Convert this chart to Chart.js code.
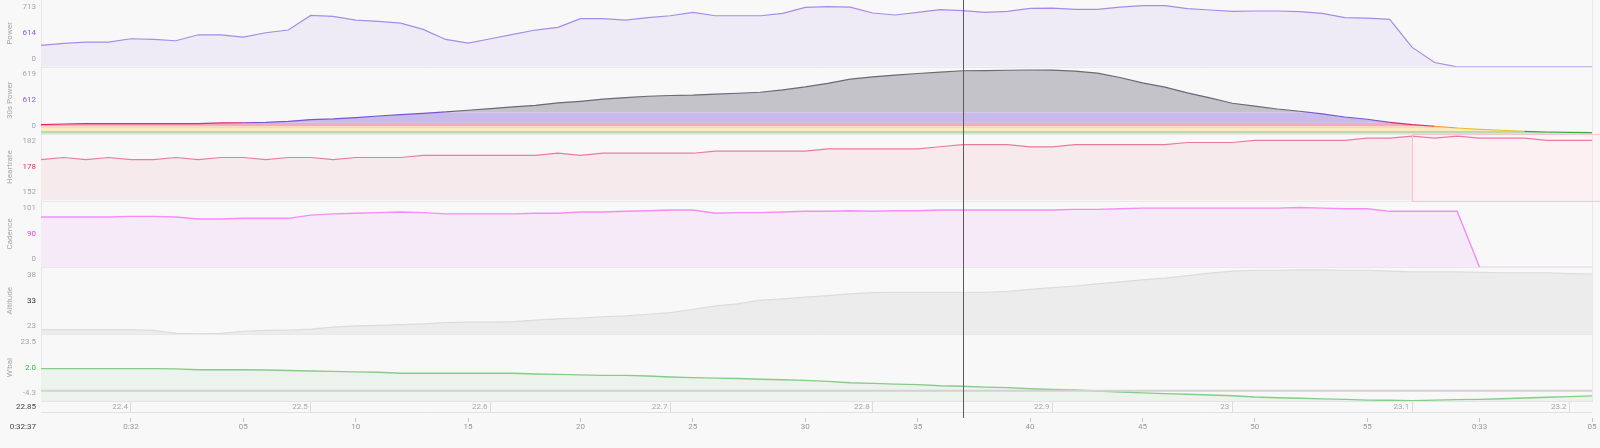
<!DOCTYPE html>
<html>
<head>
<meta charset="utf-8">
<script src="https://cdn.jsdelivr.net/npm/chart.js@4.4.1/dist/chart.umd.min.js"></script>
<style>
html, body { margin: 0; padding: 0; background: #f8f8f8; }
#wrap { width: 1600px; height: 448px; }
</style>
</head>
<body>
<div id="wrap"><canvas id="mycanvas" width="1600" height="448"></canvas></div>
<script>
// one sample per second, first sample at 0:31:56
var startTime = 1916;
var endTime = 1985;

var power = [234,256,270,270,307,299,285,350,350,325,
	372,402,562,551,511,496,478,409,299,259,
	307,354,402,431,526,526,511,537,558,595,
	558,558,558,584,650,657,653,588,566,595,
	624,614,595,606,639,642,628,628,653,668,
	668,635,621,606,610,610,602,584,537,533,
	518,212,47,0,0,0,0,0,0,0];
var power30 = [88,94,98,98,98,98,98,98,104,106,
	110,120,137,143,156,172,185,198,211,228,
	244,260,276,299,315,335,351,364,371,374,
	384,393,403,426,455,490,530,553,569,585,
	598,612,614,617,619,618,608,588,546,494,
	452,397,348,296,267,240,218,192,162,140,
	110,88,72,55,42,33,23,16,13,10];
var heartrate = [171,172,171,172,171,171,172,171,172,172,
	171,172,172,171,172,172,172,173,173,173,
	173,173,173,174,173,174,174,174,174,174,
	175,175,175,175,175,176,176,176,176,176,
	177,178,178,178,177,177,178,178,178,178,
	178,179,179,179,180,180,180,180,180,181,
	181,182,181,182,181,181,181,180,180,180];
var cadence = [79,79,79,79,80,80,79,76,76,77,
	77,77,82,84,85,86,87,86,84,84,
	84,84,85,85,87,87,88,89,90,90,
	85,86,86,87,88,88,89,88,89,89,
	90,90,90,90,90,90,91,91,92,93,
	93,93,93,93,93,93,94,93,92,92,
	88,88,88,88,0,0,0,0,0,0];
var altitude = [24.1,24.1,24.1,24.1,24.1,23.9,23.2,23.1,23.2,23.7,
	23.9,24.0,24.2,24.7,25.0,25.1,25.3,25.5,25.8,25.9,
	25.9,26.0,26.4,26.7,26.9,27.2,27.4,27.8,28.2,29.0,
	29.8,30.3,31.2,31.5,31.9,32.3,32.7,33.0,33.1,33.1,
	33.1,33.1,33.1,33.3,33.8,34.2,34.6,35.1,35.6,36.1,
	36.5,37.1,37.7,38.2,38.4,38.4,38.5,38.5,38.4,38.4,
	38.2,38.0,38.0,38.0,37.9,37.8,37.8,37.8,37.6,37.5];
var wbal = [9.6,9.6,9.6,9.6,9.6,9.6,9.5,9.1,9.1,9.1,
	9.0,8.8,8.6,8.4,8.2,8.0,7.6,7.6,7.6,7.6,
	7.6,7.6,7.3,7.1,6.9,6.7,6.7,6.4,6.0,5.7,
	5.5,5.3,5.0,4.8,4.5,4.1,3.5,3.2,2.9,2.7,
	2.2,2.0,1.6,1.4,0.9,0.6,0.4,-0.1,-0.5,-0.9,
	-1.2,-1.5,-1.8,-2.1,-2.7,-3.0,-3.2,-3.5,-3.7,-4.0,
	-4.1,-4.3,-4.0,-3.8,-3.7,-3.4,-3.1,-2.8,-2.5,-2.2];

// left labels of each panel: min, value at cursor, max
var powerTicks = ['0', '614', '713'];
var power30Ticks = ['0', '612', '619'];
var hrTicks = ['152', '178', '182'];
var cadTicks = ['0', '90', '101'];
var altTicks = ['23', '33', '38'];
var wbalTicks = ['-4.3', '2.0', '23.5'];

// 30s power zones (upper bounds), last zone open
var zoneTops = [26, 52, 72, 107, 205];

var timeTicks = [1920,1925,1930,1935,1940,1945,1950,1955,1960,1965,1970,1975,1980,1985];
var timeLabels = ['0:32','05','10','15','20','25','30','35','40','45','50','55','0:33','05'];
var distTimes = [1920,1928,1936,1944,1953,1961,1969,1977,1984];
var distLabels = ['22.4','22.5','22.6','22.7','22.8','22.9','23','23.1','23.2'];

var cursorTime = 1957;
var cursorTimeLabel = '0:32:37';
var cursorDistLabel = '22.85';
var lapStart = 1977;

Chart.defaults.font.family = 'Roboto';
Chart.defaults.font.size = 8;

function pts(arr) {
	var out = [];
	for (var i = 0; i < arr.length; i++) {
		out.push({x: startTime + i, y: arr[i]});
	}
	return out;
}

function zoneOf(v) {
	for (var z = 0; z < zoneTops.length; z++) {
		if (v <= zoneTops[z]) return z;
	}
	return zoneTops.length;
}

var zoneFill = ['#b3dcb4', '#fdecbb', '#fbd8b3', '#f2abc2', '#c8bbeb', '#c4c3c9'];
var zoneLine = ['#36a845', '#e3c32c', '#f29a2f', '#e02a68', '#7a53d7', '#6b6974'];

function panelAxis(title, lo, hi, labels, midColor) {
	return {
		type: 'linear',
		position: 'left',
		stack: 'panels',
		stackWeight: 1,
		min: lo,
		max: hi,
		grid: { display: false, drawTicks: false },
		border: { display: true, color: '#e6e6e6' },
		title: {
			display: true,
			text: title,
			color: '#a6a6a6',
			font: { size: 8 },
			padding: { top: 5, bottom: 0 }
		},
		afterBuildTicks: function(scale) {
			var r = hi - lo;
			scale.ticks = [{value: lo + r * 0.12}, {value: lo + r * 0.5}, {value: lo + r * 0.89}];
		},
		afterFit: function(scale) {
			scale.width = 41;
			scale.paddingTop = 0;
			scale.paddingBottom = 0;
		},
		ticks: {
			autoSkip: false,
			padding: 5,
			font: { size: 8 },
			color: function(c) { return c.index === 1 ? midColor : '#a6a6a6'; },
			callback: function(v, i) { return labels[i]; }
		}
	};
}

var datasets = [];

datasets.push({
	label: 'Power', data: pts(power), yAxisID: 'yP',
	borderColor: '#a68ce6', borderWidth: 1.2, backgroundColor: '#efebf6', fill: 'start'
});

datasets.push({
	label: '30s Power', data: pts(power30), yAxisID: 'y30',
	borderWidth: 1.2, fill: false, order: -1,
	segment: {
		borderColor: function(c) { return zoneLine[zoneOf((c.p0.parsed.y + c.p1.parsed.y) / 2)]; }
	}
});
for (var z = 0; z <= zoneTops.length; z++) {
	(function(z) {
		var d = power30.map(function(v) { return z < zoneTops.length ? Math.min(v, zoneTops[z]) : v; });
		datasets.push({
			label: 'zone ' + (z + 1), data: pts(d), yAxisID: 'y30',
			borderWidth: 0, borderColor: 'rgba(0,0,0,0)', backgroundColor: zoneFill[z],
			fill: z === 0 ? 'start' : '-1'
		});
	})(z);
}

datasets.push({
	label: 'Heartrate', data: pts(heartrate), yAxisID: 'yH',
	borderColor: '#ea7c9e', borderWidth: 1.2, backgroundColor: '#f6eaec', fill: 'start',
	segment: {
		backgroundColor: function(c) { return c.p0.parsed.x >= lapStart ? '#fdf0f3' : '#f6eaec'; }
	}
});
datasets.push({
	label: 'Cadence', data: pts(cadence), yAxisID: 'yC',
	borderColor: '#f68cf6', borderWidth: 1.4, backgroundColor: '#f6eaf8', fill: 'start'
});
datasets.push({
	label: 'Altitude', data: pts(altitude), yAxisID: 'yA',
	borderColor: '#dcdcdc', borderWidth: 1.2, backgroundColor: '#ececec', fill: 'start'
});
datasets.push({
	label: "W'bal", data: pts(wbal), yAxisID: 'yW',
	borderColor: '#86cc88', borderWidth: 1.4, backgroundColor: '#ecf3ec', fill: 'start'
});

var overlay = {
	id: 'overlay',
	beforeDatasetsDraw: function(chart) {
		var ctx = chart.ctx;
		var h = chart.scales.yH;
		var xl = chart.scales.x.getPixelForValue(lapStart);
		ctx.save();
		ctx.fillStyle = '#fef3f5';
		ctx.fillRect(xl, h.top, chart.width - xl, h.bottom - h.top);
		ctx.restore();
	},
	afterDatasetsDraw: function(chart) {
		var ctx = chart.ctx;
		var area = chart.chartArea;
		var s = chart.scales;
		ctx.save();
		// zero line of W'bal
		var y0 = s.yW.getPixelForValue(0);
		ctx.strokeStyle = '#d2d2d2';
		ctx.lineWidth = 2;
		ctx.beginPath();
		ctx.moveTo(area.left, y0);
		ctx.lineTo(area.right, y0);
		ctx.stroke();
		// panel separators
		ctx.strokeStyle = '#e8e8e8';
		ctx.lineWidth = 1;
		['yP', 'y30', 'yH', 'yC', 'yA'].forEach(function(id) {
			var yb = Math.round(s[id].bottom) + 0.5;
			ctx.beginPath();
			ctx.moveTo(area.left, yb);
			ctx.lineTo(area.right, yb);
			ctx.stroke();
		});
		// right border of the plot
		ctx.beginPath();
		ctx.moveTo(Math.round(area.right) + 0.5, area.top);
		ctx.lineTo(Math.round(area.right) + 0.5, area.bottom);
		ctx.stroke();
		// bottom of distance row
		var yd = Math.round(s.xd.top + 11) + 0.5;
		ctx.strokeStyle = '#e2e2e2';
		ctx.beginPath();
		ctx.moveTo(area.left, yd);
		ctx.lineTo(area.right, yd);
		ctx.stroke();
		// lap box in heartrate panel
		var h = s.yH;
		var xl = Math.round(s.x.getPixelForValue(lapStart)) + 0.5;
		ctx.strokeStyle = '#f7c3d2';
		ctx.strokeRect(xl, Math.round(h.top) + 0.5, chart.width - xl + 2, h.bottom - h.top);
		// cursor
		var xc = Math.round(s.x.getPixelForValue(cursorTime)) + 0.5;
		ctx.strokeStyle = '#595959';
		ctx.beginPath();
		ctx.moveTo(xc, 0);
		ctx.lineTo(xc, s.x.top);
		ctx.stroke();
		// cursor values on the left
		ctx.fillStyle = '#444444';
		ctx.font = '8px Roboto';
		ctx.textAlign = 'right';
		ctx.textBaseline = 'middle';
		ctx.fillText(cursorDistLabel, 36, s.xd.top + 6);
		ctx.fillText(cursorTimeLabel, 36, s.x.top + 9);
		ctx.restore();
	}
};

var ctx = document.getElementById('mycanvas');

var chart = new Chart(ctx, {
	type: 'line',
	data: { datasets: datasets },
	plugins: [overlay],
	options: {
		responsive: false,
		animation: false,
		events: [],
		layout: { padding: { left: 0, right: 8, top: 0, bottom: 0 } },
		elements: { point: { radius: 0 }, line: { tension: 0 } },
		plugins: { legend: { display: false }, tooltip: { enabled: false } },
		scales: {
			x: {
				type: 'linear', position: 'bottom', min: startTime, max: endTime, weight: 1,
				grid: { display: true, drawOnChartArea: false, drawTicks: true, tickLength: 4, color: '#c4c4c4' },
				border: { display: false },
				afterBuildTicks: function(scale) {
					scale.ticks = timeTicks.map(function(v) { return {value: v}; });
				},
				afterFit: function(scale) { scale.height = 30; scale.paddingLeft = 0; scale.paddingRight = 0; },
				ticks: {
					autoSkip: false, maxRotation: 0, padding: 0, color: '#999999', font: { size: 8 },
					callback: function(v, i) { return timeLabels[i]; }
				}
			},
			xd: {
				type: 'linear', axis: 'x', position: 'bottom', min: startTime, max: endTime, weight: 0,
				grid: { display: true, drawOnChartArea: false, drawTicks: true, tickLength: 11, color: '#dcdcdc' },
				border: { display: true, color: '#e4e4e4' },
				afterBuildTicks: function(scale) {
					scale.ticks = distTimes.map(function(v) { return {value: v}; });
				},
				afterFit: function(scale) { scale.height = 17; scale.paddingLeft = 0; scale.paddingRight = 0; },
				ticks: {
					autoSkip: false, maxRotation: 0, align: 'end', labelOffset: -3, padding: -10,
					color: '#a8a8a8', font: { size: 8 },
					callback: function(v, i) { return distLabels[i]; }
				}
			},
			yW: panelAxis("W'bal", -4.4, 24.5, wbalTicks, '#3fb33f'),
			yA: panelAxis('Altitude', 23, 39.1, altTicks, '#333333'),
			yC: panelAxis('Cadence', 0, 105, cadTicks, '#f23ff2'),
			yH: panelAxis('Heartrate', 152, 183.1, hrTicks, '#e8336b'),
			y30: panelAxis('30s Power', 0, 650, power30Ticks, '#8a5ce0'),
			yP: panelAxis('Power', 0, 730, powerTicks, '#8a5ce0')
		}
	}
});
</script>
</body>
</html>
